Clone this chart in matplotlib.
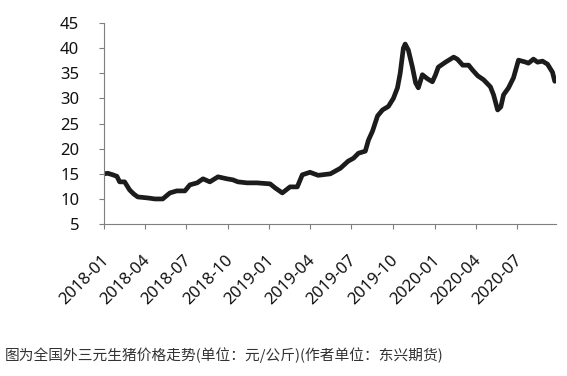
import matplotlib
matplotlib.use("Agg")
import matplotlib.pyplot as plt
import matplotlib.transforms as mtransforms
import numpy as np
import pandas as pd

dates = ["2018-01-01","2018-01-10","2018-01-21","2018-01-30","2018-02-05","2018-02-16",
         "2018-02-27","2018-03-08","2018-03-17","2018-04-08","2018-04-24","2018-05-11",
         "2018-05-27","2018-06-11","2018-06-29","2018-07-10","2018-07-26","2018-08-08",
         "2018-08-23","2018-09-10","2018-09-30","2018-10-13","2018-10-24","2018-11-13",
         "2018-12-05","2018-12-19","2019-01-03","2019-01-14","2019-01-30","2019-02-16",
         "2019-03-04","2019-03-15","2019-04-01","2019-04-19","2019-05-16","2019-06-07",
         "2019-06-24","2019-07-06","2019-07-17","2019-08-01","2019-08-08","2019-08-17",
         "2019-08-28","2019-09-08","2019-09-21","2019-10-02","2019-10-11","2019-10-17",
         "2019-10-24","2019-10-28","2019-11-04","2019-11-13","2019-11-20","2019-11-26",
         "2019-12-05","2019-12-16","2019-12-27","2020-01-03","2020-01-09","2020-01-25",
         "2020-02-12","2020-02-20","2020-03-03","2020-03-16","2020-03-25","2020-04-05",
         "2020-04-18","2020-05-03","2020-05-10","2020-05-19","2020-05-26","2020-06-01",
         "2020-06-12","2020-06-23","2020-07-04","2020-07-20","2020-07-26","2020-08-06",
         "2020-08-15","2020-08-26","2020-09-06","2020-09-17","2020-09-22"]
prices = [15.0,15.1,14.8,14.5,13.4,13.4,
          11.8,11.0,10.4,10.2,10.0,10.0,
          11.2,11.6,11.6,12.8,13.2,14.0,
          13.4,14.4,14.0,13.8,13.4,13.2,
          13.2,13.1,13.0,12.2,11.2,12.4,
          12.4,14.8,15.3,14.7,15.0,16.1,
          17.5,18.1,19.1,19.5,21.7,23.5,
          26.5,27.7,28.4,30.0,32.1,35.0,
          40.0,40.8,39.6,36.2,33.1,32.1,
          34.7,33.9,33.3,34.7,36.2,37.2,
          38.2,37.8,36.6,36.6,35.6,34.5,
          33.7,32.3,30.7,27.7,28.3,30.7,
          32.1,34.1,37.6,37.2,37.0,37.8,
          37.2,37.4,36.8,35.2,33.4]
tick_labels = ["2018-01","2018-04","2018-07","2018-10","2019-01","2019-04",
               "2019-07","2019-10","2020-01","2020-04","2020-07"]
y_ticks = [5, 10, 15, 20, 25, 30, 35, 40, 45]
caption = "图为全国外三元生猪价格走势(单位：元/公斤)(作者单位：东兴期货)"

plt.rcParams['font.family'] = ['Noto Sans', 'DejaVu Sans']

fig = plt.figure(figsize=(5.67, 3.76), dpi=100)
ax = fig.add_axes([0.183, 0.404, 0.797, 0.535])

x = pd.to_datetime(dates)
ax.plot(x, prices, color="#1c1c1c", lw=3.4, solid_joinstyle="round", solid_capstyle="round")

ax.set_ylim(5, 45)
ax.set_yticks(y_ticks)
ax.set_xlim(pd.Timestamp("2018-01-01"), pd.Timestamp("2020-09-24"))
ax.set_xticks(pd.to_datetime([t + "-01" for t in tick_labels]))
ax.set_xticklabels(tick_labels, rotation=45, ha="right", va="center",
                   rotation_mode="anchor")

for s in ["top", "right"]:
    ax.spines[s].set_visible(False)
for s in ["left", "bottom"]:
    ax.spines[s].set_color("#7f7f7f")
    ax.spines[s].set_linewidth(0.8)
ax.tick_params(axis="both", direction="out", length=3.6, width=0.8, color="#7f7f7f",
               labelsize=12, labelcolor="#111111")
ax.tick_params(axis="y", pad=14)
ax.tick_params(axis="x", pad=21)

offset = mtransforms.ScaledTranslation(3 / 100, 0, fig.dpi_scale_trans)
for lab in ax.get_xticklabels():
    lab.set_transform(lab.get_transform() + offset)

fig.text(0.008, 0.055, caption, fontsize=10.6, color="#333333",
         family=['Noto Sans CJK SC', 'DejaVu Sans'], va="center", ha="left")

fig.savefig("out.png", dpi=100)
